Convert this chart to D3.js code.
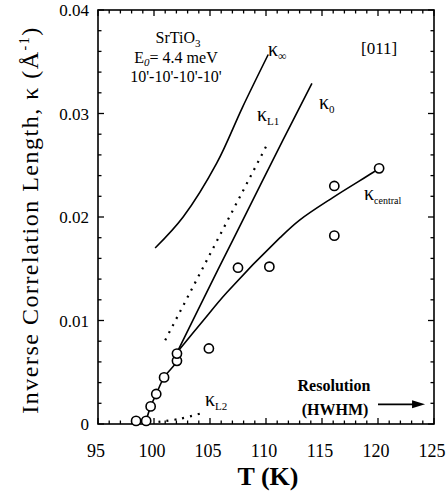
<html>
<head>
    <script src="https://d3js.org/d3.v7.min.js"></script>
    <style>
        body { margin: 0; background: #fff; }
        text { font-family: "Liberation Serif", "DejaVu Serif", serif; fill: #000; }
    </style>
</head>
<body>
    <svg id="plot"></svg>
    <script>
        // measured points (T in K, kappa in 1/A)
        var ptT = [98.4, 99.3, 99.7, 100.2, 100.9, 102.05, 102.05, 104.9, 107.5, 110.3, 116.1, 116.1, 120.1];
        var ptK = [0.0003, 0.0003, 0.0017, 0.0029, 0.0045, 0.0061, 0.0068, 0.0073, 0.0151, 0.0152, 0.0230, 0.0182, 0.0247];

        // curves
        var kInf = [[100.1, 0.0170], [102.6, 0.0200], [105.6, 0.0252], [107.9, 0.0306], [110.2, 0.0357]];
        var k0 = [[102.05, 0.0069], [105.7, 0.0149], [107.05, 0.0178], [111.5, 0.0274], [114.1, 0.0329]];
        var kL1 = [[101.0, 0.0081], [110.1, 0.0270]];
        var kL2 = [[100.4, 0.0002], [102.3, 0.0005], [104.1, 0.0010]];
        var kCentral = [[102.05, 0.0069], [104.4, 0.0100], [106.5, 0.0127], [111.25, 0.0180],
                        [113.0, 0.0197], [116.0, 0.0219], [119.55, 0.0243], [120.1, 0.0247]];
        var lowT = [[99.3, 0.0003], [99.7, 0.0017], [100.2, 0.0029], [100.9, 0.0045], [102.05, 0.0061], [102.05, 0.0069]];

        var xTicks = [95, 100, 105, 110, 115, 120, 125];
        var yTicks = [0, 0.01, 0.02, 0.03, 0.04];
        var yTickLabels = ["0", "0.01", "0.02", "0.03", "0.04"];

        var W = 448, H = 496;
        var L = 98, R = 434, T = 10, B = 424;

        var svg = d3.select("#plot").attr("width", W).attr("height", H);

        var x = d3.scaleLinear().domain([95, 125]).range([L, R]);
        var y = d3.scaleLinear().domain([0, 0.04]).range([B, T]);

        // frame
        svg.append("rect").attr("x", L).attr("y", T).attr("width", R - L).attr("height", B - T)
            .attr("fill", "none").attr("stroke", "#000").attr("stroke-width", 1.6);

        // ticks (inward, all four sides)
        var xMinor = d3.range(95, 125.01, 1);
        var yMinor = d3.range(0, 0.0401, 0.002);
        var tg = svg.append("g").attr("stroke", "#000").attr("stroke-width", 1.3);
        xMinor.forEach(function(t){
            var len = (Math.round(t) % 5 === 0) ? 6 : 3.5;
            tg.append("line").attr("x1", x(t)).attr("x2", x(t)).attr("y1", B).attr("y2", B - len);
            tg.append("line").attr("x1", x(t)).attr("x2", x(t)).attr("y1", T).attr("y2", T + len);
        });
        yMinor.forEach(function(v, i){
            var len = (i % 5 === 0) ? 6 : 3.5;
            tg.append("line").attr("x1", L).attr("x2", L + len).attr("y1", y(v)).attr("y2", y(v));
            tg.append("line").attr("x1", R).attr("x2", R - len).attr("y1", y(v)).attr("y2", y(v));
        });

        // tick labels
        svg.selectAll(".xl").data(xTicks).enter().append("text")
            .attr("x", function(d){ return x(d) - 2; }).attr("y", 457)
            .attr("text-anchor", "middle").attr("font-size", 18).text(function(d){ return d; });
        svg.selectAll(".yl").data(yTicks).enter().append("text")
            .attr("x", 89).attr("y", function(d){ return y(d) + 6; })
            .attr("text-anchor", "end").attr("font-size", 17)
            .text(function(d, i){ return yTickLabels[i]; });

        // axis titles
        svg.append("text").attr("x", 268).attr("y", 485).attr("text-anchor", "middle")
            .attr("font-size", 26).attr("font-weight", "bold").text("T (K)");
        var yt = svg.append("text").attr("transform", "translate(38,220) rotate(-90)")
            .attr("text-anchor", "middle").attr("font-size", 24).attr("letter-spacing", 1.5);
        yt.append("tspan").text("Inverse Correlation Length, κ  (Å");
        yt.append("tspan").attr("dy", -9).attr("font-size", 14).text("-1");
        yt.append("tspan").attr("dy", 9).text(")");

        var line = d3.line().x(function(d){ return x(d[0]); }).y(function(d){ return y(d[1]); })
            .curve(d3.curveCatmullRom);

        function draw(data, dashed) {
            var p = svg.append("path").datum(data).attr("d", line)
                .attr("fill", "none").attr("stroke", "#000").attr("stroke-width", dashed ? 2.2 : 1.6);
            if (dashed) p.attr("stroke-dasharray", "2,6");
        }
        draw(kInf, false);
        draw(k0, false);
        draw(kCentral, false);
        draw(lowT, false);
        draw(kL1, true);
        draw(kL2, true);

        // data circles
        svg.selectAll(".dot").data(ptT).enter().append("circle")
            .attr("cx", function(d){ return x(d); })
            .attr("cy", function(d, i){ return y(ptK[i]); })
            .attr("r", 4.6).attr("fill", "#fff").attr("stroke", "#000").attr("stroke-width", 1.6);

        // labels
        function label(px, py, main, sub, size, subSize) {
            var t = svg.append("text").attr("x", px).attr("y", py).attr("font-size", size);
            t.append("tspan").text(main);
            if (sub) t.append("tspan").attr("dy", 4).attr("font-size", subSize).text(sub);
            return t;
        }
        var t1 = svg.append("text").attr("x", 178).attr("y", 43).attr("text-anchor", "middle").attr("font-size", 16);
        t1.append("tspan").text("SrTiO");
        t1.append("tspan").attr("dy", 4).attr("font-size", 11).text("3");
        var t2 = svg.append("text").attr("x", 176).attr("y", 63).attr("text-anchor", "middle").attr("font-size", 16);
        t2.append("tspan").text("E");
        t2.append("tspan").attr("dy", 3).attr("font-size", 11).attr("font-style", "italic").text("0");
        t2.append("tspan").attr("dy", -3).text("= 4.4 meV");
        svg.append("text").attr("x", 176).attr("y", 82).attr("text-anchor", "middle").attr("font-size", 16)
            .text("10'-10'-10'-10'");
        svg.append("text").attr("x", 361).attr("y", 54).attr("font-size", 17).text("[011]");

        label(268, 56, "κ", "∞", 20, 12);
        label(257, 121, "κ", "L1", 20, 11);
        label(319, 109, "κ", "0", 20, 11);
        label(364, 200, "κ", "central", 20, 10);
        label(205, 406, "κ", "L2", 20, 11);

        svg.append("text").attr("x", 334).attr("y", 391).attr("text-anchor", "middle")
            .attr("font-size", 16).attr("font-weight", "bold").text("Resolution");
        svg.append("text").attr("x", 335).attr("y", 415).attr("text-anchor", "middle")
            .attr("font-size", 16).attr("font-weight", "bold").text("(HWHM)");

        // resolution arrow
        var ay = y(0.0019);
        svg.append("line").attr("x1", x(120)).attr("x2", x(123.6)).attr("y1", ay).attr("y2", ay)
            .attr("stroke", "#000").attr("stroke-width", 1.6);
        svg.append("path")
            .attr("d", "M" + x(124.2) + "," + ay + " l-13,-4 l0,8 z").attr("fill", "#000");
    </script>
</body>
</html>
